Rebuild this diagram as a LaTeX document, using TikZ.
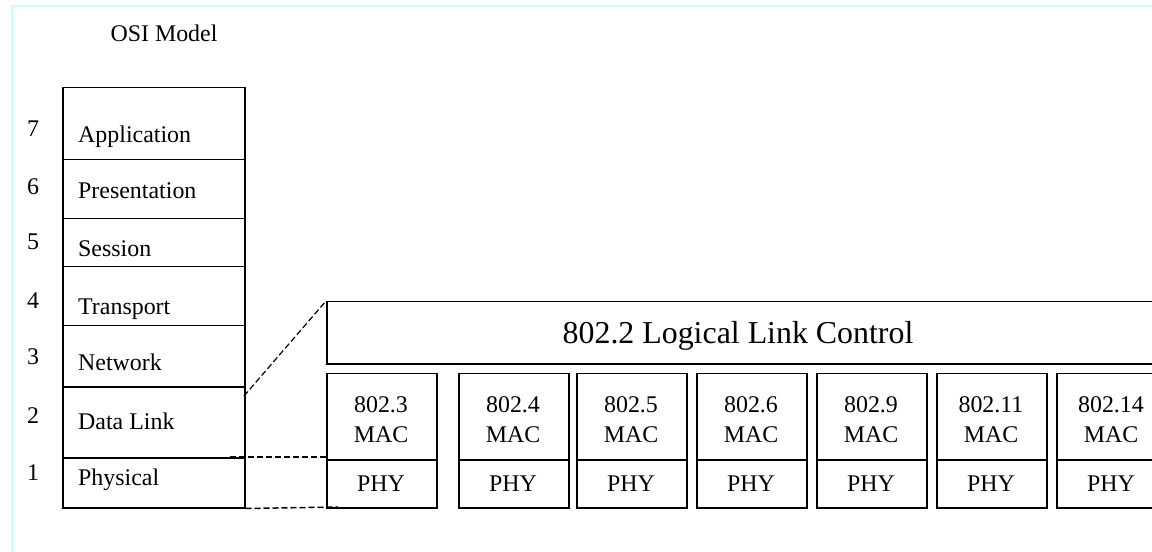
\documentclass[tikz,border=0pt]{standalone}
\usepackage{fontspec}
\setmainfont{Liberation Serif}
\definecolor{framecyan}{RGB}{200,255,255}
\begin{document}
\begin{tikzpicture}[x=1bp,y=-1bp,
  box/.style={draw, line width=1.5bp, inner sep=0pt, anchor=north west},
  lbl/.style={anchor=base west, inner sep=0pt, font=\fontsize{24}{26}\selectfont},
  num/.style={anchor=base, inner sep=0pt, font=\fontsize{24}{26}\selectfont},
  ctr/.style={anchor=base, inner sep=0pt, font=\fontsize{24}{26}\selectfont},
  zoomline/.style={line width=1.5bp, dash pattern=on 6bp off 3bp}]
\useasboundingbox (0,0) rectangle (1152,552);
\clip (0,0) rectangle (1152,552);
\draw[framecyan, line width=1.5bp] (12,552) -- (12,6) -- (1152,6);

\node[ctr] (title) at (164,42) {OSI Model};

% OSI stack
\node[box, minimum width=182bp, minimum height=72bp] (app) at (62,87) {};
\node[box, minimum width=182bp, minimum height=59bp] (pre) at (62,159) {};
\node[box, minimum width=182bp, minimum height=48bp] (ses) at (62,218) {};
\node[box, minimum width=182bp, minimum height=59bp] (tra) at (62,266) {};
\node[box, minimum width=182bp, minimum height=61bp] (net) at (62,325) {};
\node[box, minimum width=182bp, minimum height=71bp] (dl)  at (62,386) {};
\node[box, minimum width=182bp, minimum height=50bp] (phy) at (62,457) {};

\node[lbl] (lapp) at (78,143) {Application};
\node[lbl] (lpre) at (78,199) {Presentation};
\node[lbl] (lses) at (78,257) {Session};
\node[lbl] (ltra) at (78,315) {Transport};
\node[lbl] (lnet) at (78,371) {Network};
\node[lbl] (ldl)  at (78,429) {Data Link};
\node[lbl] (lphy) at (78,485) {Physical};

\node[num] (n7) at (33,137) {7};
\node[num] (n6) at (33,195) {6};
\node[num] (n5) at (33,250) {5};
\node[num] (n4) at (33,309) {4};
\node[num] (n3) at (33,365) {3};
\node[num] (n2) at (33,423) {2};
\node[num] (n1) at (33,480) {1};

% LLC
\node[box, minimum width=840bp, minimum height=62bp] (llc) at (326,301) {};
\node[anchor=base, inner sep=0pt, font=\fontsize{32}{35}\selectfont] (llct) at (738,344) {802.2 Logical Link Control};

% MAC / PHY boxes
\foreach \i/\x/\t in {1/326/802.3, 2/458/802.4, 3/576/802.5, 4/696/802.6, 5/816/802.9, 6/936/802.11, 7/1056/802.14} {
  \node[box, minimum width=110bp, minimum height=86bp] (mac\i) at (\x,373) {};
  \node[box, minimum width=110bp, minimum height=48bp] (ph\i) at (\x,459) {};
  \node[ctr] (mt\i) at (\x+55,412) {\t};
  \node[ctr] (mm\i) at (\x+55,442) {MAC};
  \node[ctr] (pt\i) at (\x+55,491) {PHY};
}

% zoom connectors
\coordinate (d1) at (244,396);
\coordinate (d2) at (230,457);
\coordinate (d3) at (338,507);
\draw[zoomline, line width=1.2bp] (d1) -- (llc.north west);
\draw[zoomline] (d2) -- (d2 -| mac1.west);
\draw[zoomline] (phy.south east) -- (d3);
\end{tikzpicture}
\end{document}
